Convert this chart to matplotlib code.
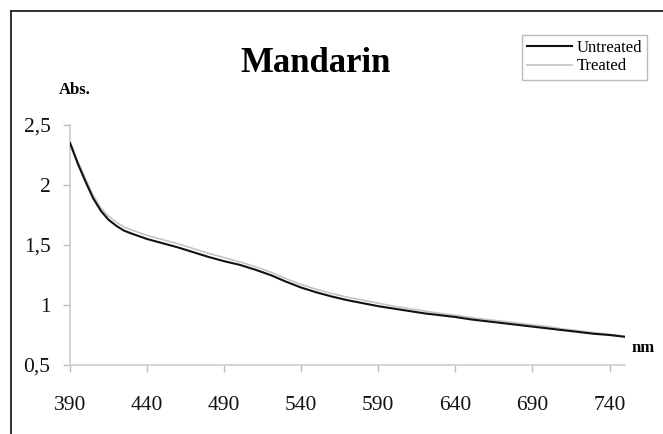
import matplotlib.pyplot as plt
from matplotlib.lines import Line2D
from matplotlib.ticker import FuncFormatter

# wavelength (nm) and absorbance values
nm = [390, 395, 400, 405, 410, 415, 420, 425, 430, 440, 450, 460, 470, 480,
      490, 500, 510, 520, 530, 540, 550, 560, 570, 580, 590, 600, 610, 620,
      630, 640, 650, 660, 670, 680, 690, 700, 710, 720, 730, 740, 750]
untreated = [2.35, 2.18, 2.03, 1.89, 1.785, 1.71, 1.66, 1.62, 1.595, 1.55, 1.515,
             1.48, 1.44, 1.40, 1.365, 1.335, 1.295, 1.25, 1.195, 1.145, 1.105,
             1.07, 1.04, 1.015, 0.99, 0.97, 0.95, 0.93, 0.915, 0.90, 0.88,
             0.865, 0.85, 0.835, 0.82, 0.805, 0.79, 0.775, 0.76, 0.75, 0.735]
treated = [2.36, 2.20, 2.055, 1.915, 1.81, 1.74, 1.69, 1.65, 1.625, 1.58, 1.545,
           1.51, 1.47, 1.43, 1.395, 1.36, 1.32, 1.275, 1.22, 1.17, 1.13, 1.095,
           1.065, 1.04, 1.015, 0.99, 0.97, 0.95, 0.93, 0.915, 0.895, 0.88,
           0.865, 0.85, 0.835, 0.82, 0.80, 0.785, 0.77, 0.755, 0.74]

x_ticks = [390, 440, 490, 540, 590, 640, 690, 740]
y_ticks = [0.5, 1, 1.5, 2, 2.5]

plt.rcParams['font.family'] = ['Liberation Serif', 'DejaVu Serif']

W, H = 663, 434
fig = plt.figure(figsize=(W / 100, H / 100), dpi=100)
ax = fig.add_axes([70 / W, 1 - 365 / H, (625 - 70) / W, (365 - 125) / H])

ax.plot(nm, treated, color='#c4c4c4', lw=1.2, label='Treated', zorder=2)
ax.plot(nm, untreated, color='#111111', lw=1.5, label='Untreated', zorder=3)

ax.set_xlim(390, 750)
ax.set_ylim(0.5, 2.5)
ax.set_xticks(x_ticks)
ax.set_yticks(y_ticks)
ax.yaxis.set_major_formatter(FuncFormatter(lambda v, p: ('%g' % v).replace('.', ',')))

for s in ['top', 'right']:
    ax.spines[s].set_visible(False)
for s in ['left', 'bottom']:
    ax.spines[s].set_color('#cccccc')
    ax.spines[s].set_linewidth(1.2)
ax.tick_params(axis='both', colors='#bbbbbb', labelcolor='#111111',
               labelsize=15.5, length=5, width=1)
ax.tick_params(axis='x', pad=17)
ax.tick_params(axis='y', pad=9)

# titles and axis tags
fig.text(316 / W, 1 - 63 / H, 'Mandarin', ha='center', va='center',
         fontsize=25, fontweight='bold')
fig.text(75 / W, 1 - 90 / H, 'Abs.', ha='center', va='center',
         fontsize=12, fontweight='bold')
fig.text(643 / W, 1 - 348 / H, 'nm', ha='center', va='center',
         fontsize=12, fontweight='bold')

# legend in the same order as the picture
h, l = ax.get_legend_handles_labels()
leg = fig.legend(h[::-1], l[::-1], loc='upper right',
                 bbox_to_anchor=(647 / W, 1 - 35 / H), fontsize=12,
                 frameon=True, fancybox=False, handlelength=2.7,
                 handletextpad=0.25, borderpad=0.3, labelspacing=0.15,
                 borderaxespad=0)
leg.get_frame().set_edgecolor('#aaaaaa')
leg.get_frame().set_linewidth(1)

# outer frame lines (top and left only)
fig.add_artist(Line2D([11 / W, 1], [1 - 11 / H, 1 - 11 / H], color='#222222', lw=1.3))
fig.add_artist(Line2D([11 / W, 11 / W], [0, 1 - 11 / H], color='#222222', lw=1.3))

fig.savefig('out.png', dpi=100)
